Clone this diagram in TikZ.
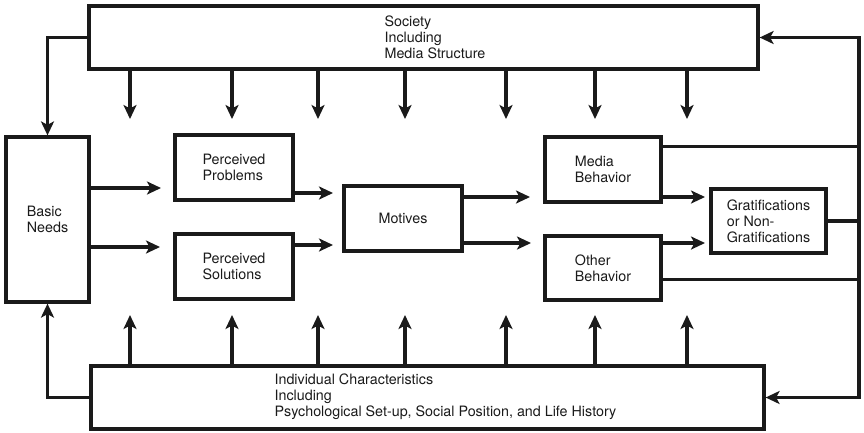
\documentclass[tikz,border=0pt]{standalone}
\usepackage{fontspec}
\setmainfont{TeX Gyre Heros}
\usepackage{xcolor}
\usetikzlibrary{arrows.meta,calc}
\definecolor{ink}{HTML}{1A1A1A}
\pgfkeys{tikz/usesgrid/.style={x=1pt,y=-1pt,line width=3.2pt,draw=ink,text=ink,font=\fontsize{14.3}{16.2}\selectfont}}
\pgfkeys{tikz/box/.style={draw=ink,line width=3.2pt,align=left,inner sep=0pt}}
\pgfkeys{tikz/boxtext/.style={anchor=west,align=left,inner sep=0pt}}
\pgfkeys{tikz/flow/.style={-{Stealth[length=14pt,width=13pt,inset=3.5pt]}}}
\newcommand*\sidearrow[3]{
    \coordinate (#2) at #3;
    \draw[flow] (#1.east |- #2) -- (#2);
}

\begin{document}
\begin{tikzpicture}[usesgrid]
    \useasboundingbox (0,0) rectangle (864,432);
    % outer boxes
    \node[box, minimum width=669pt, minimum height=63pt] (society) at (423.5,37.5) {};
    \node[boxtext] (societytext) at (383,37) {Society\\Including\\Media Structure};
    \node[box, minimum width=673pt, minimum height=63pt] (indiv) at (427.5,397.5) {};
    \node[boxtext] (indivtext) at (273,397) {Individual Characteristics\\Including\\Psychological Set-up, Social Position, and Life History};
    % inner boxes
    \node[box, minimum width=83pt, minimum height=165pt] (needs) at (47.5,219.5) {Basic\\Needs};
    \node[box, minimum width=118pt, minimum height=65pt] (problems) at (234,167.5) {Perceived\\Problems};
    \node[box, minimum width=118pt, minimum height=65pt] (solutions) at (234,266.5) {Perceived\\Solutions};
    \node[box, minimum width=118pt, minimum height=65pt] (motives) at (403,218.5) {Motives};
    \node[box, minimum width=116pt, minimum height=65pt] (media) at (603,169.5) {Media\\Behavior};
    \node[box, minimum width=116pt, minimum height=64pt] (other) at (603,268) {Other\\Behavior};
    \node[box, minimum width=115pt, minimum height=64pt] (grat) at (768.5,221) {Gratifications\\or Non-\\Gratifications};
    % influences from society and from the individual
    \foreach \x in {130,232,318,405,506,595,687} {
        \coordinate (d\x) at (\x,119);
        \draw[flow] (society.south -| d\x) -- (d\x);
        \coordinate (u\x) at (\x,315);
        \draw[flow] (indiv.north -| u\x) -- (u\x);
    }
    % main flow
    \sidearrow{needs}{a1}{(161,188)}
    \sidearrow{needs}{a2}{(160,247)}
    \sidearrow{problems}{a3}{(333,193)}
    \sidearrow{solutions}{a4}{(333,245)}
    \sidearrow{motives}{a5}{(530,197)}
    \sidearrow{motives}{a6}{(531,243)}
    \sidearrow{media}{a7}{(705,197)}
    \sidearrow{other}{a8}{(705,243)}
    % feedback
    \coordinate (rail) at (859,0);
    \draw[flow] (society.west) -| (needs.north);
    \draw[flow] (indiv.west) -| (needs.south);
    \draw[flow] (rail |- grat.east) |- (society.east);
    \draw[flow] (rail |- grat.east) |- (indiv.east);
    \draw (grat.east) -- (rail |- grat.east);
    \draw ($(media.north east)+(0,11)$) coordinate (mtap) -- (rail |- mtap);
    \draw ($(other.south east)+(0,-22)$) coordinate (otap) -- (rail |- otap);
\end{tikzpicture}
\end{document}
